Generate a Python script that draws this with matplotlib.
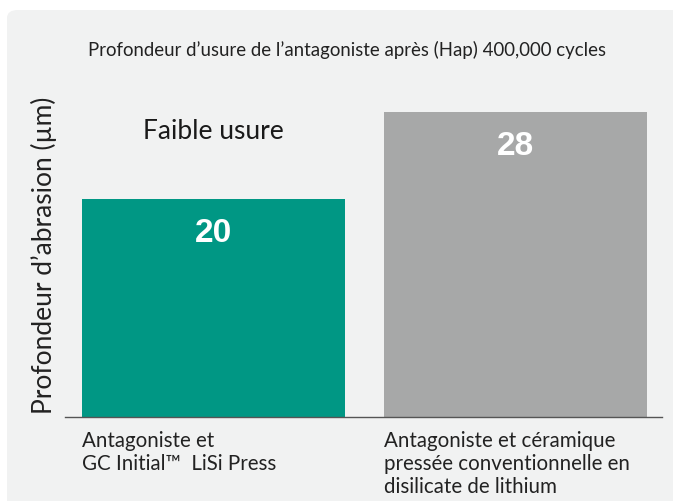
import matplotlib
matplotlib.use('Agg')
import matplotlib.pyplot as plt
from matplotlib.patches import FancyBboxPatch

plt.rcParams['font.family'] = ['Lato', 'DejaVu Sans']

# données
categories = ['Antagoniste et\nGC Initial™  LiSi Press',
              'Antagoniste et céramique\npressée conventionnelle en\ndisilicate de lithium']
values = [20, 28]
bar_colors = ['#009784', '#a7a8a8']
title = 'Profondeur d\u2019usure de l\u2019antagoniste après (Hap) 400,000 cycles'
ylabel = 'Profondeur d\u2019abrasion (µm)'
note = 'Faible usure'

W, H = 673, 502
fig = plt.figure(figsize=(W / 100, H / 100), dpi=100)
fig.patch.set_facecolor('white')

# panneau gris clair arrondi
panel = FancyBboxPatch((7 / W, -0.05), 1.05, (H - 11) / H + 0.05,
                       boxstyle='round,pad=0,rounding_size=0.016',
                       transform=fig.transFigure, facecolor='#f1f2f2',
                       edgecolor='none', zorder=-10)
fig.patches.append(panel)

ax = fig.add_axes([65 / W, (H - 418) / H, (662 - 65) / W, (418 - 90) / H])
ax.set_facecolor('none')
ax.set_zorder(5)

x = [0, 1]
ax.bar(x, values, width=0.87, color=bar_colors, zorder=2)
ax.set_xlim(-0.491, 1.483)
ax.set_ylim(0, 30.1)

for xi, v in zip(x, values):
    ax.text(xi, v - 3.1, str(v), ha='center', va='center', color='white',
            fontsize=24, fontweight='bold', family=['Liberation Sans', 'DejaVu Sans'])

ax.text(0, 26.3, note, ha='center', va='center', fontsize=19, color='#1a1a1a')

for s in ['top', 'right', 'left']:
    ax.spines[s].set_visible(False)
ax.spines['bottom'].set_color('#555555')
ax.spines['bottom'].set_linewidth(1.0)
ax.set_xticks([])
ax.set_yticks([])

# étiquettes des catégories, alignées à gauche sous les barres
for xi, lab in zip(x, categories):
    ax.text(xi - 0.435, -1.2, lab, ha='left', va='top', fontsize=14.8,
            color='#222222', linespacing=1.2)

fig.text(347 / W, 1 - 50 / H, title, ha='center', va='center',
         fontsize=13.4, color='#222222')
fig.text(44 / W, 1 - 255 / H, ylabel, ha='center', va='center',
         rotation=90, fontsize=19, color='#222222')

fig.savefig('out.png', dpi=100, facecolor=fig.get_facecolor())
